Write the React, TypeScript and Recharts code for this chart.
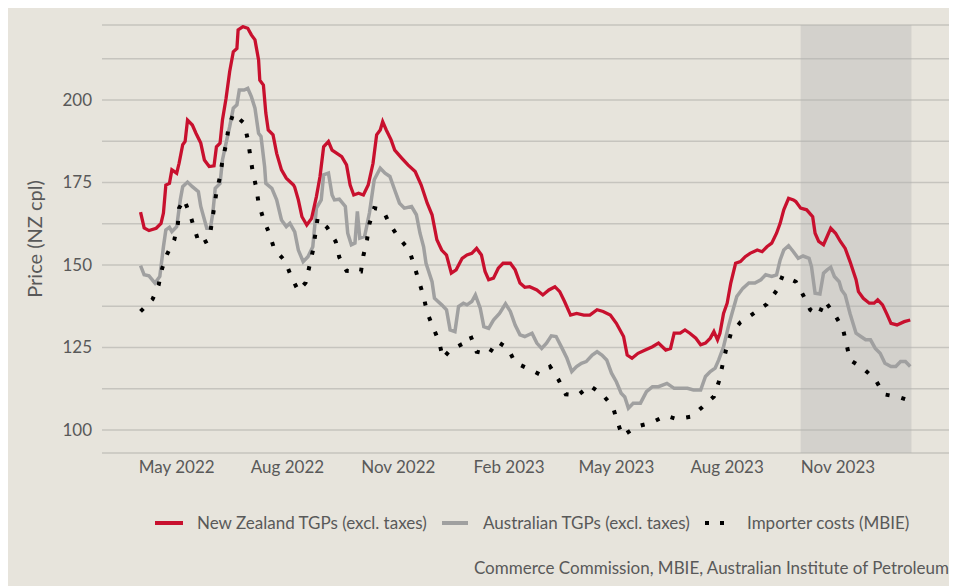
import React from 'react';
import { LineChart, Line, XAxis, YAxis, CartesianGrid, ReferenceArea } from 'recharts';

// Days counted from 1 April 2022
const nzTGP: [number, number][] = [
  [0,166.0],[3,161.2],[7,160.4],[13,161.1],[17,162.6],[19,165.7],[21,174.2],[24,174.7],[26,178.8],[30,177.8],
  [32,180.8],[35,186.4],[37,187.4],[39,193.9],[43,192.4],[46,189.9],[50,186.9],[53,181.8],[57,179.8],[61,180.0],
  [63,185.8],[66,186.9],[68,193.9],[71,200.5],[74,208.6],[77,214.6],[80,215.6],[81,221.2],[85,222.2],[89,221.7],
  [92,219.7],[95,218.2],[98,212.1],[99,206.0],[102,204.5],[104,196.0],[106,190.9],[110,189.4],[113,183.8],[117,178.8],
  [121,176.3],[127,174.2],[128,173.5],[131,169.7],[134,164.6],[138,162.1],[142,164.1],[146,170.7],[149,176.8],[152,185.8],
  [156,187.4],[159,184.8],[163,183.8],[167,182.8],[171,180.3],[174,174.2],[177,171.2],[181,171.7],[185,171.2],[189,174.2],
  [193,180.8],[196,189.4],[199,190.9],[201,193.4],[204,190.9],[208,187.9],[211,184.8],[217,182.3],[222,180.3],[228,178.3],
  [233,174.2],[238,168.7],[242,165.2],[246,157.6],[250,154.5],[254,153.0],[258,147.5],[262,148.5],[267,152.0],[271,153.0],
  [275,153.5],[279,155.0],[283,153.0],[286,148.0],[289,145.5],[293,146.0],[297,149.0],[301,150.5],[307,150.5],[311,148.5],
  [315,144.5],[319,143.2],[323,143.4],[329,142.4],[334,140.9],[339,142.4],[344,143.4],[348,141.9],[352,138.9],[357,134.8],
  [362,135.3],[368,134.8],[373,134.8],[379,136.4],[384,135.9],[390,134.8],[395,132.3],[401,128.3],[404,122.7],[408,121.7],
  [413,123.2],[419,124.2],[425,125.2],[430,126.3],[436,124.2],[440,124.7],[443,129.3],[448,129.3],[452,130.3],[456,129.3],
  [461,127.8],[465,125.8],[469,126.3],[473,127.8],[476,129.8],[479,127.3],[481,129.3],[484,135.3],[487,138.4],[490,144.5],
  [494,150.5],[498,151.0],[502,152.5],[506,153.5],[512,154.5],[516,154.0],[520,155.5],[524,156.6],[528,159.6],[531,162.6],
  [534,166.7],[538,170.2],[542,169.7],[544,169.2],[548,167.2],[553,166.7],[558,164.6],[560,159.6],[563,157.1],[567,156.1],
  [570,158.6],[573,161.1],[577,159.6],[581,157.1],[585,155.0],[589,151.0],[594,145.5],[596,141.9],[600,139.9],[605,138.4],
  [609,138.4],[612,139.4],[616,137.9],[620,134.8],[623,132.3],[628,131.8],[634,132.8],[639,133.3],
];

const auTGP: [number, number][] = [
  [0,149.8],[3,147.0],[7,146.7],[12,144.5],[16,146.5],[19,155.5],[21,160.6],[24,161.4],[26,160.1],[30,161.6],
  [33,169.7],[35,173.7],[39,175.1],[43,173.7],[48,172.2],[50,167.7],[55,161.1],[58,161.1],[60,165.7],[62,173.2],
  [66,174.7],[68,181.8],[71,186.9],[74,191.9],[77,197.5],[80,198.5],[82,203.0],[86,203.0],[89,203.5],[92,201.0],
  [95,197.5],[98,189.9],[100,188.9],[103,179.8],[104,174.7],[109,173.2],[113,169.7],[117,163.6],[121,161.6],[124,162.6],
  [128,160.0],[131,154.5],[135,151.0],[139,152.5],[143,155.5],[146,167.2],[150,169.7],[152,177.3],[156,177.8],[159,171.2],
  [161,169.7],[165,169.9],[170,167.7],[172,159.6],[175,156.1],[178,156.6],[180,166.2],[182,158.1],[186,158.6],[190,165.7],
  [194,175.8],[199,179.3],[203,177.8],[207,176.8],[211,172.7],[215,168.7],[219,167.2],[225,167.7],[229,165.2],[232,159.6],
  [235,155.5],[237,150.5],[242,144.9],[244,139.9],[250,137.9],[254,136.4],[257,130.3],[261,129.8],[264,137.4],[268,138.4],
  [271,137.9],[275,138.9],[278,140.9],[282,136.9],[285,131.3],[289,130.8],[293,133.3],[298,135.3],[303,138.2],[307,135.9],
  [311,131.8],[315,128.8],[319,128.3],[325,129.3],[329,126.3],[333,124.7],[337,126.3],[341,128.5],[345,128.3],[350,124.7],
  [354,121.7],[358,117.7],[362,119.2],[366,120.2],[370,120.7],[375,122.7],[379,123.7],[383,122.7],[387,121.2],[391,117.2],
  [395,114.6],[399,111.1],[402,110.0],[405,106.6],[409,108.1],[415,108.1],[420,111.6],[425,113.1],[430,113.1],[437,114.1],
  [443,112.6],[448,112.6],[454,112.6],[459,112.1],[465,112.1],[469,116.2],[473,117.7],[477,118.7],[480,121.2],[484,125.2],
  [488,131.3],[491,135.3],[495,140.4],[500,142.9],[505,144.5],[510,144.5],[515,145.5],[519,147.0],[524,146.5],[528,147.0],
  [531,151.5],[534,154.5],[538,155.8],[542,154.0],[546,152.0],[550,152.7],[555,152.0],[557,149.5],[560,141.4],[564,141.2],
  [567,147.5],[570,148.5],[573,149.3],[576,146.5],[580,144.9],[582,142.4],[585,140.9],[589,135.3],[594,129.3],[598,128.3],
  [602,127.3],[606,127.3],[610,124.7],[614,123.2],[618,120.2],[623,119.2],[627,119.2],[631,120.7],[635,120.7],[639,119.2],
];

const importerCost: [number, number][] = [
  [0,135.9],[10,139.6],[15,143.9],[18,149.0],[22,153.2],[28,157.6],[31,162.4],[32,167.2],[36,169.9],[41,165.4],
  [45,160.6],[49,156.1],[57,157.6],[59,162.4],[61,167.2],[63,172.0],[66,176.8],[68,181.6],[71,186.6],[73,191.4],
  [77,195.9],[86,192.9],[89,188.1],[91,183.3],[93,178.5],[96,173.5],[98,168.7],[102,163.9],[107,159.4],[111,154.8],
  [120,151.2],[125,146.5],[131,142.1],[137,144.6],[140,149.3],[143,154.2],[145,159.1],[147,164.1],[155,161.3],[162,157.1],
  [165,152.3],[171,148.2],[183,148.0],[185,152.8],[188,157.6],[190,162.4],[194,167.2],[201,166.7],[207,162.3],[214,158.4],
  [223,154.5],[227,150.0],[231,145.2],[235,140.4],[238,135.5],[243,131.0],[248,126.5],[251,121.7],[257,124.2],[267,126.0],
  [274,128.5],[279,123.7],[289,122.9],[296,126.8],[305,124.7],[311,120.4],[321,118.7],[331,116.9],[340,119.2],[347,115.2],
  [353,110.8],[363,110.5],[373,113.4],[383,110.9],[392,107.1],[396,102.3],[400,98.2],[412,101.0],[424,102.2],[436,104.3],
  [445,103.3],[457,104.0],[466,106.8],[476,110.1],[480,114.5],[483,119.4],[486,124.2],[490,129.1],[498,132.6],[509,135.3],
  [520,138.1],[528,142.2],[533,146.7],[544,144.9],[550,140.9],[556,136.4],[563,134.8],[568,139.1],[576,135.1],[583,130.8],
  [586,126.1],[589,121.2],[600,118.6],[610,115.3],[617,110.8],[630,109.9],[635,109.3],
];

const xTickDays = [30, 122, 214, 306, 395, 487, 579];
const xTickLabels = ['May 2022', 'Aug 2022', 'Nov 2022', 'Feb 2023', 'May 2023', 'Aug 2023', 'Nov 2023'];
const yTicks = [100, 112.5, 125, 137.5, 150, 162.5, 175, 187.5, 200, 212.5];
const yLabelTicks = [100, 125, 150, 175, 200];
const shadeDays = [548, 640];

const seriesNames = ['New Zealand TGPs (excl. taxes)', 'Australian TGPs (excl. taxes)', 'Importer costs (MBIE)'];
const sourceText = 'Commerce Commission, MBIE, Australian Institute of Petroleum';

const toRows = (s: [number, number][]) => s.map(([t, v]) => ({ t, v }));

const FONT = 'Lato, "Open Sans", sans-serif';
const TEXT = '#595959';
const RED = '#c8102e';
const GREY = '#a0a0a0';

export default function App() {
  return (
    <div style={{ position: 'relative', width: 949, height: 578, background: '#e7e4dc', fontFamily: FONT }}>
      <LineChart width={949} height={578} margin={{ top: 17, right: 7, left: 0, bottom: 103 }}>
        <CartesianGrid vertical={false} stroke="#c6c4be" strokeWidth={1.5} />
        <ReferenceArea x1={shadeDays[0]} x2={shadeDays[1]} fill="#b0b0b0" fillOpacity={0.37} stroke="none" ifOverflow="visible" />
        <XAxis
          type="number"
          dataKey="t"
          domain={[-32, 672]}
          ticks={xTickDays}
          tickFormatter={(d: number) => xTickLabels[xTickDays.indexOf(d)] ?? ''}
          axisLine={false}
          tickLine={false}
          height={30}
          tick={{ fill: TEXT, fontSize: 17, fontFamily: FONT }}
          allowDataOverflow
        />
        <YAxis
          type="number"
          domain={[93, 222.7]}
          ticks={yTicks}
          tickFormatter={(v: number) => (yLabelTicks.includes(v) ? String(v) : '')}
          axisLine={false}
          tickLine={false}
          width={94}
          tickMargin={4}
          tick={{ fill: TEXT, fontSize: 17, fontFamily: FONT }}
          allowDataOverflow
          label={{ value: 'Price (NZ cpl)', angle: -90, position: 'insideLeft', offset: 27, fill: TEXT, fontSize: 20, fontFamily: FONT, style: { textAnchor: 'middle' } }}
        />
        <Line data={toRows(auTGP)} dataKey="v" name={seriesNames[1]} stroke={GREY} strokeWidth={3.5} dot={false} isAnimationActive={false} />
        <Line data={toRows(importerCost)} dataKey="v" name={seriesNames[2]} stroke="#000" strokeWidth={4} strokeDasharray="4 12" dot={false} isAnimationActive={false} />
        <Line data={toRows(nzTGP)} dataKey="v" name={seriesNames[0]} stroke={RED} strokeWidth={3.3} dot={false} isAnimationActive={false} />
      </LineChart>
      {/* Legend */}
      <div style={{ position: 'absolute', left: 147, top: 513, width: 28, height: 4, background: RED }} />
      <div style={{ position: 'absolute', left: 189, top: 504, fontSize: 17, color: TEXT, lineHeight: '22px' }}>{seriesNames[0]}</div>
      <div style={{ position: 'absolute', left: 434, top: 513, width: 26, height: 4, background: GREY }} />
      <div style={{ position: 'absolute', left: 475, top: 504, fontSize: 17, color: TEXT, lineHeight: '22px' }}>{seriesNames[1]}</div>
      <div style={{ position: 'absolute', left: 697, top: 513, width: 4, height: 4, background: '#000' }} />
      <div style={{ position: 'absolute', left: 712, top: 513, width: 4, height: 4, background: '#000' }} />
      <div style={{ position: 'absolute', left: 739, top: 504, fontSize: 17, color: TEXT, lineHeight: '22px' }}>{seriesNames[2]}</div>
      <div style={{ position: 'absolute', right: 8, top: 549, fontSize: 17, color: TEXT, lineHeight: '22px' }}>{sourceText}</div>
    </div>
  );
}
